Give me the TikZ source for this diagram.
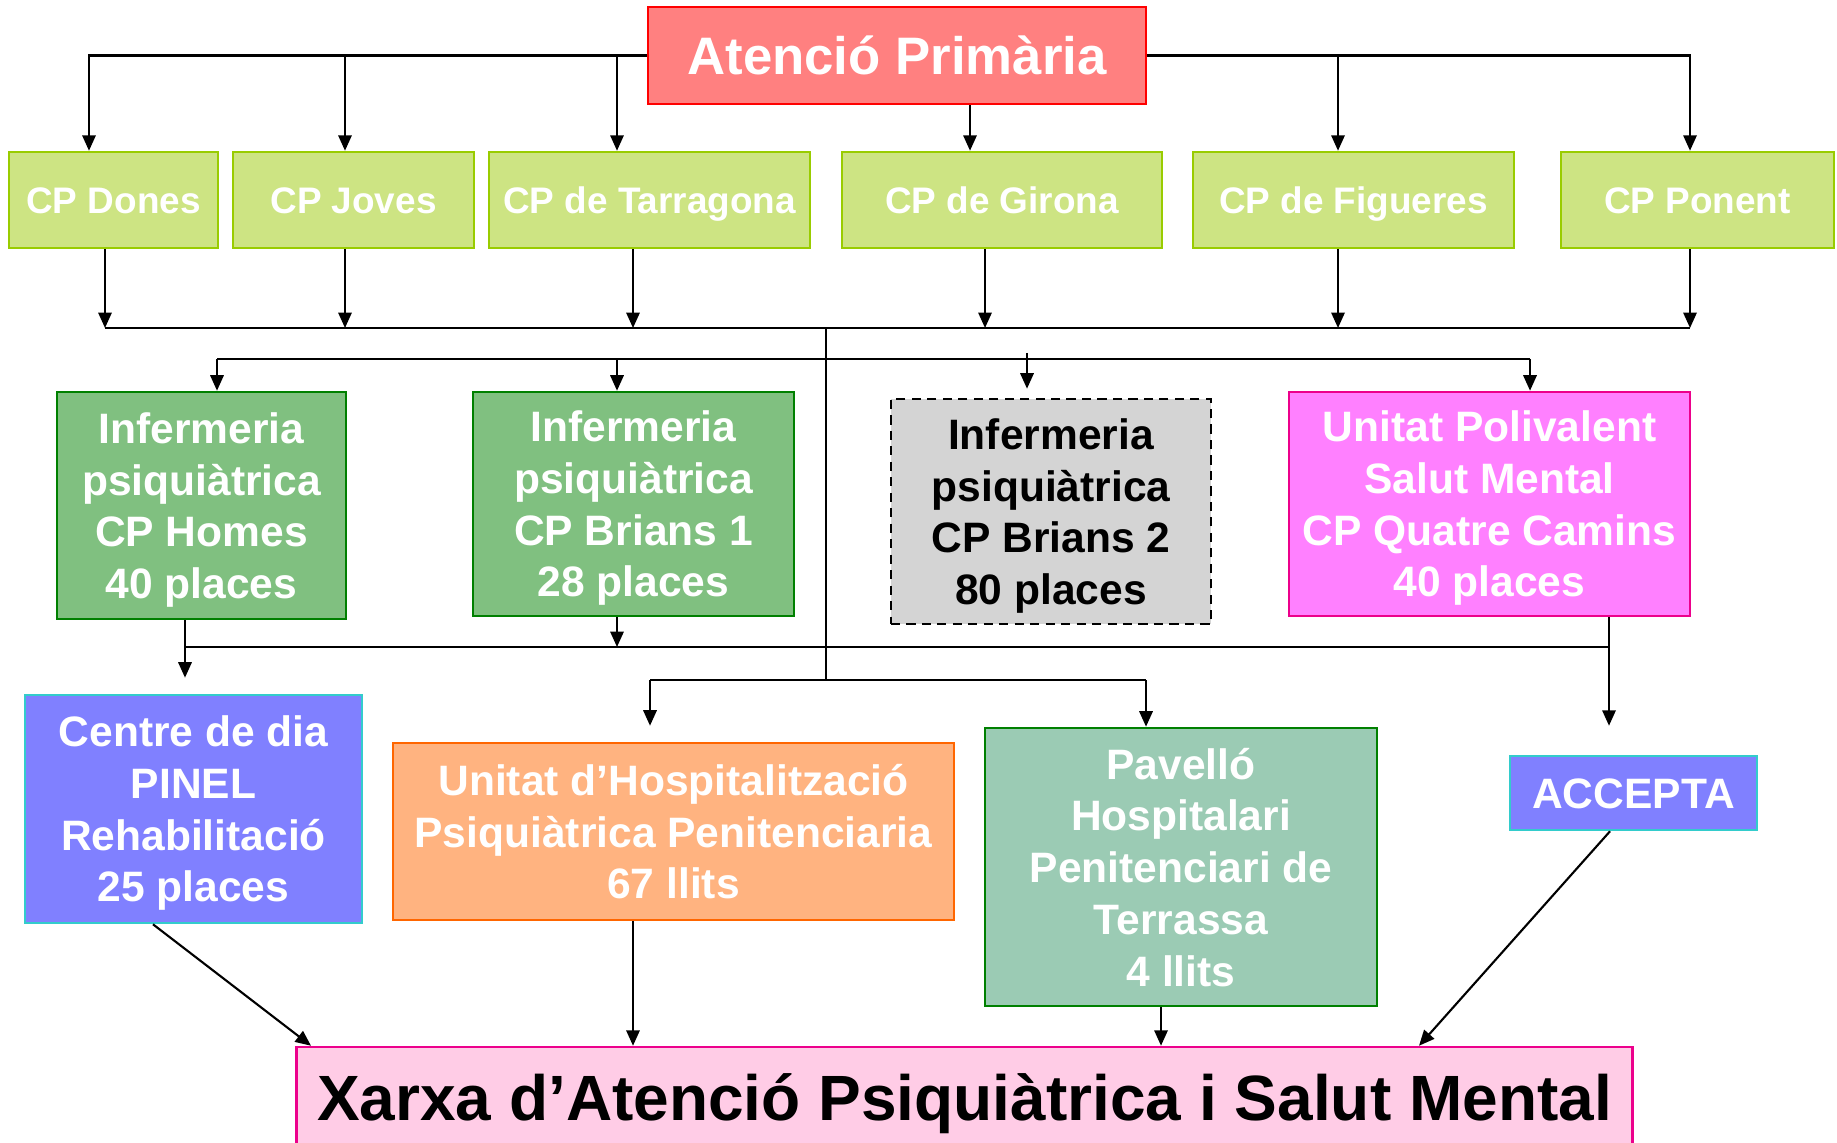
\documentclass[tikz,border=0pt]{standalone}
\usepackage{fontspec}
\setmainfont{Liberation Sans}
\usetikzlibrary{arrows.meta}

\definecolor{apfill}{RGB}{255,128,128}
\definecolor{cpfill}{RGB}{205,228,131}
\definecolor{cpdraw}{RGB}{153,204,0}
\definecolor{inffill}{RGB}{128,192,128}
\definecolor{infdraw}{RGB}{0,128,0}
\definecolor{grisfill}{RGB}{212,212,212}
\definecolor{upfill}{RGB}{255,128,255}
\definecolor{lilafill}{RGB}{128,128,255}
\definecolor{liladraw}{RGB}{51,204,204}
\definecolor{uhfill}{RGB}{255,179,128}
\definecolor{uhdraw}{RGB}{255,102,0}
\definecolor{pavfill}{RGB}{155,203,180}
\definecolor{xarxafill}{RGB}{255,204,230}

\begin{document}
\begin{tikzpicture}[x=0.01cm, y=-0.01cm,
    caixa/.style={draw, line width=0.7pt, inner sep=0pt, align=center, text=white,
        text depth=0pt, font=\bfseries\fontsize{12.1}{14.7}\selectfont},
    altura/.style={text height=#1},
    cp/.style={caixa, altura=7.52pt, fill=cpfill, draw=cpdraw, minimum height=0.96cm,
        font=\bfseries\fontsize{10.5}{12.6}\selectfont},
    fletxa/.style={-{Triangle[length=4.4pt,width=3.8pt]}, line width=0.6pt},
    linia/.style={line width=0.6pt}]
\useasboundingbox (0,0) rectangle (1837,1143);

\node[caixa, altura=10.74pt, fill=apfill, draw=red, minimum width=4.98cm, minimum height=0.97cm,
    font=\bfseries\fontsize{15}{18}\selectfont] (atencio) at (897,55.5) {Atenció Primària};

\foreach \nom/\x/\w/\txt in {dones/113.5/2.09/CP Dones, joves/353.5/2.41/CP Joves,
    tarragona/649.5/3.21/CP de Tarragona, girona/1002/3.20/CP de Girona,
    figueres/1353.5/3.21/CP de Figueres, ponent/1697.5/2.73/CP Ponent}
  \node[cp, minimum width=\w cm] (\nom) at (\x,200) {\txt};

\node[caixa, fill=inffill, draw=infdraw, minimum width=2.89cm, minimum height=2.27cm]
    (homes) at (201.5,505.5) {Infermeria\\psiquiàtrica\\CP Homes\\40 places};
\node[caixa, fill=inffill, draw=infdraw, minimum width=3.21cm, minimum height=2.24cm]
    (brians1) at (633.5,504) {Infermeria\\psiquiàtrica\\CP Brians 1\\28 places};
\node[caixa, fill=grisfill, draw=black, dash pattern=on 2.6pt off 1.8pt, text=black,
    minimum width=3.20cm, minimum height=2.25cm]
    (brians2) at (1051,511.5) {Infermeria\\psiquiàtrica\\CP Brians 2\\80 places};
\node[caixa, fill=upfill, draw=magenta, minimum width=4.01cm, minimum height=2.24cm]
    (upsm) at (1489.5,504) {Unitat Polivalent\\Salut Mental\\CP Quatre Camins\\40 places};

\node[caixa, fill=lilafill, draw=liladraw, minimum width=3.37cm, minimum height=2.28cm]
    (centre) at (193.5,809) {Centre de dia\\PINEL\\Rehabilitació\\25 places};
\node[caixa, fill=uhfill, draw=uhdraw, minimum width=5.61cm, minimum height=1.77cm]
    (unitat) at (673.5,831.5) {Unitat d’Hospitalització\\Psiquiàtrica Penitenciaria\\67 llits};
\node[caixa, fill=pavfill, draw=infdraw, minimum width=3.92cm, minimum height=2.78cm]
    (pavello) at (1181,867) {Pavelló\\Hospitalari\\Penitenciari de\\Terrassa\\4 llits};
\node[caixa, altura=8.66pt, fill=lilafill, draw=liladraw, minimum width=2.47cm, minimum height=0.74cm]
    (accepta) at (1633.5,793) {ACCEPTA};
\node[caixa, altura=13.03pt, fill=xarxafill, draw=magenta, text=black, minimum width=13.35cm,
    minimum height=1.02cm, font=\bfseries\fontsize{18.2}{21}\selectfont]
    (xarxa) at (964.5,1098) {Xarxa d’Atenció Psiquiàtrica i Salut Mental};

% buses
\coordinate (t1) at (826,328);
\coordinate (t2) at (826,359);
\coordinate (t3) at (826,647);
\coordinate (t4) at (826,680);
\coordinate (stub) at (1027,353);

\foreach \nom/\x in {dones/89, joves/345, tarragona/617}
  \draw[fletxa] (atencio.west) -| (\nom.north -| \x,0);
\draw[fletxa] (atencio.south -| 970,0) -- (girona.north -| 970,0);
\foreach \nom/\x in {figueres/1338, ponent/1690}
  \draw[fletxa] (atencio.east) -| (\nom.north -| \x,0);

\foreach \nom/\x in {dones/105, joves/345, tarragona/633, girona/985, figueres/1338, ponent/1690}
  \draw[fletxa] (\nom.south -| \x,0) -- (t1 -| \x,0);
\draw[linia] (t1 -| 105,0) -- (t1 -| 1690,0);
\draw[linia] (t1) -- (t4);

\draw[linia] (t2 -| 217,0) -- (t2 -| 1530,0);
\foreach \nom/\x in {homes/217, brians1/617, upsm/1530}
  \draw[fletxa] (t2 -| \x,0) -- (\nom.north -| \x,0);
\draw[fletxa, shorten >=0.09cm] (stub) -- (brians2.north -| stub);

\draw[linia] (homes.south -| 185,0) |- (t3 -| 1609,0);
\draw[linia] (upsm.south -| 1609,0) -- (t3 -| 1609,0);
\draw[fletxa] (brians1.south -| 617,0) -- (t3 -| 617,0);
\draw[fletxa, shorten >=0.16cm] (t3 -| 185,0) -- (centre.north -| 185,0);
\draw[fletxa, shorten >=0.29cm] (t3 -| 1609,0) -- (accepta.north -| 1609,0);

\draw[linia] (t4 -| 650,0) -- (t4 -| 1146,0);
\draw[fletxa, shorten >=0.16cm] (t4 -| 650,0) -- (unitat.north -| 650,0);
\draw[fletxa] (t4 -| 1146,0) -- (pavello.north -| 1146,0);

\draw[fletxa] (centre.south -| 153,0) -- (xarxa.north -| 311,0);
\draw[fletxa] (unitat.south -| 633,0) -- (xarxa.north -| 633,0);
\draw[fletxa] (pavello.south -| 1161,0) -- (xarxa.north -| 1161,0);
\draw[fletxa] (accepta.south -| 1610,0) -- (xarxa.north -| 1419,0);
\end{tikzpicture}
\end{document}
